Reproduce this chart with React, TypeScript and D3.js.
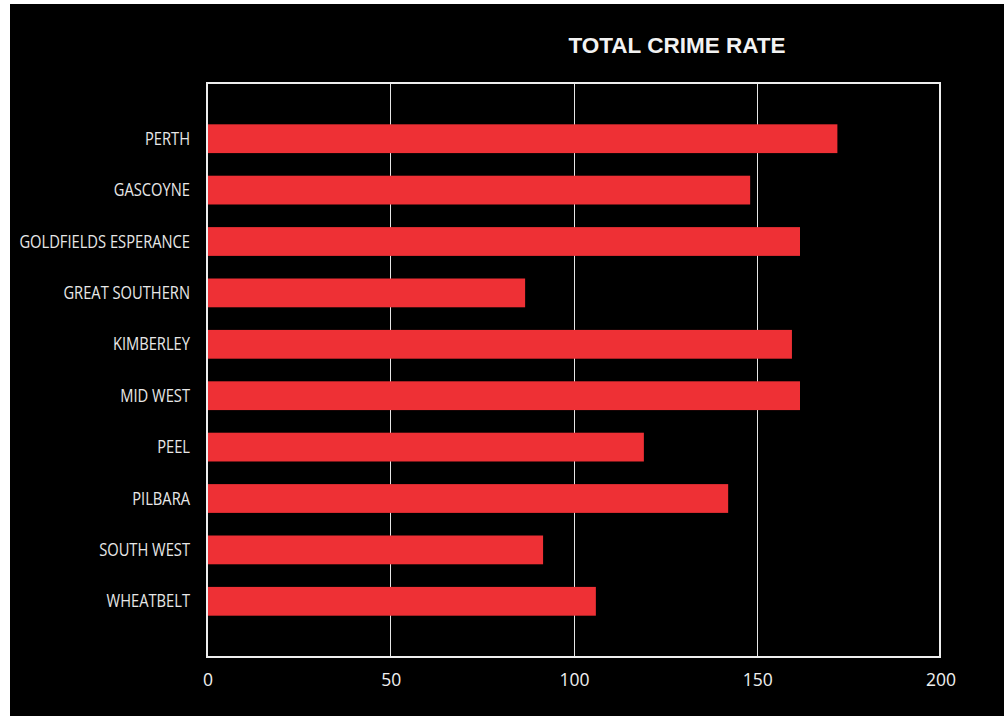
import React from "react";
import * as d3 from "d3";

const categories = ["PERTH", "GASCOYNE", "GOLDFIELDS ESPERANCE", "GREAT SOUTHERN", "KIMBERLEY", "MID WEST", "PEEL", "PILBARA", "SOUTH WEST", "WHEATBELT"];
const values = [172, 148.2, 161.8, 86.8, 159.6, 161.8, 119.2, 142.2, 91.7, 106.1];
const xTicks = [0, 50, 100, 150, 200];
const title = "TOTAL CRIME RATE";

export default function App() {
  const W = 1004, H = 716;
  const frame = { x0: 207, x1: 940, y0: 83, y1: 657 };
  const x = d3.scaleLinear().domain([0, 200]).range([frame.x0, frame.x1]);
  const y = d3.scaleBand<string>().domain(categories).range([113, 627]).paddingInner(0.44).paddingOuter(0.22);
  return (
    <svg width={W} height={H} style={{ position: "absolute", left: 0, top: 0 }}>
      <rect x={0} y={0} width={W} height={H} fill="#fff" />
      <rect x={10} y={4} width={W - 10} height={H - 4} fill="#000" />
      <text x={677} y={53} textAnchor="middle" fill="#f2f2f2" fontFamily="Liberation Sans, Arial, sans-serif" fontWeight="bold" fontSize={22.5}>{title}</text>
      {xTicks.slice(1, -1).map((t) => (
        <line key={t} x1={Math.round(x(t)) + 0.5} x2={Math.round(x(t)) + 0.5} y1={frame.y0} y2={frame.y1} stroke="#e6e6e6" strokeWidth={1} />
      ))}
      {categories.map((c, i) => (
        <rect key={c} x={x(0)} y={y(c)} width={x(values[i]) - x(0)} height={y.bandwidth()} fill="#ee3035" />
      ))}
      <rect x={frame.x0} y={frame.y0} width={frame.x1 - frame.x0} height={frame.y1 - frame.y0} fill="none" stroke="#eeeeee" strokeWidth={2} />
      {categories.map((c) => (
        <text key={c} transform={`translate(190,${(y(c) as number) + y.bandwidth() / 2}) scale(0.85,1)`} dy="0.35em" textAnchor="end" fill="#e8e8e8" fontFamily="Open Sans, Noto Sans, sans-serif" fontSize={17.3}>{c}</text>
      ))}
      {xTicks.map((t) => (
        <text key={t} x={x(t) + 1} y={686} textAnchor="middle" fill="#f0f0f0" fontFamily="Open Sans, Noto Sans, sans-serif" fontSize={17.5}>{t}</text>
      ))}
    </svg>
  );
}
